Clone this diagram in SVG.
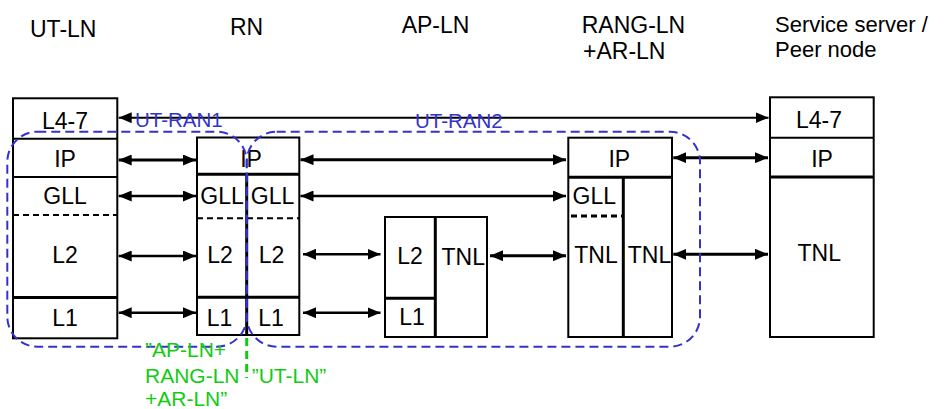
<svg xmlns="http://www.w3.org/2000/svg" width="945" height="409" viewBox="0 0 945 409">
<style>
.box{fill:#fff;stroke:#000;stroke-width:2}
.dv{stroke:#000;stroke-width:2;fill:none}
.tk{stroke:#000;stroke-width:3;fill:none}
.ds{stroke:#000;stroke-width:2;stroke-dasharray:6 4;fill:none}
.t{font-family:"Liberation Sans",Arial,sans-serif;font-size:23px;fill:#000}
.c{text-anchor:middle}
.arr{stroke:#000;stroke-width:2.5;fill:none;marker-start:url(#ah);marker-end:url(#ah)}
.arr2{stroke:#000;stroke-width:2;fill:none;marker-start:url(#ah);marker-end:url(#ah)}
.region{fill:none;stroke:#3333cc;stroke-width:2;stroke-dasharray:9 5}
.bl{font-family:"Liberation Sans",Arial,sans-serif;font-size:20.5px;fill:#3333cc}
.gr{font-family:"Liberation Sans",Arial,sans-serif;font-size:21px;fill:#11cc11}
.gl{stroke:#11cc11;stroke-width:3;stroke-dasharray:8 5;fill:none}
</style>
<defs>
<marker id="ah" viewBox="0 0 13 11" refX="13" refY="5.5" markerWidth="13" markerHeight="11" markerUnits="userSpaceOnUse" orient="auto-start-reverse">
<path d="M0,0 L13,5.5 L0,11 z" fill="#000"/>
</marker>
</defs>
<rect width="945" height="409" fill="#fff"/>

<g id="ut-ln">
<text class="t" x="30" y="37.3">UT-LN</text>
<rect class="box" x="13" y="98.3" width="104.3" height="240"/>
<line class="dv" x1="13" y1="138.7" x2="117.3" y2="138.7"/>
<line class="dv" x1="13" y1="177" x2="117.3" y2="177"/>
<line class="ds" x1="13" y1="215" x2="117.3" y2="215"/>
<line class="tk" x1="13" y1="297.5" x2="117.3" y2="297.5"/>
<text class="t c" x="65" y="129">L4-7</text>
<text class="t c" x="65" y="166.5">IP</text>
<text class="t c" x="65" y="203.5">GLL</text>
<text class="t c" x="65" y="262.5">L2</text>
<text class="t c" x="65" y="326">L1</text>
</g>

<g id="rn">
<text class="t" x="230" y="35">RN</text>
<rect class="box" x="197" y="137.5" width="102.3" height="197.5"/>
<line class="tk" x1="197" y1="174.3" x2="299.3" y2="174.3"/>
<line class="tk" x1="246.7" y1="174.3" x2="246.7" y2="335"/>
<line class="ds" x1="197" y1="218.3" x2="299.3" y2="218.3"/>
<line class="tk" x1="197" y1="297.3" x2="299.3" y2="297.3"/>
<text class="t c" x="251" y="166.5">IP</text>
<text class="t c" x="222" y="203.5">GLL</text>
<text class="t c" x="272.5" y="203.5">GLL</text>
<text class="t c" x="220" y="262.5">L2</text>
<text class="t c" x="271.5" y="262.5">L2</text>
<text class="t c" x="219.5" y="326">L1</text>
<text class="t c" x="271" y="326">L1</text>
</g>

<g id="ap-ln">
<text class="t" x="401.7" y="33.3">AP-LN</text>
<rect class="box" x="385" y="217" width="102" height="120"/>
<line class="tk" x1="435.3" y1="217" x2="435.3" y2="337"/>
<line class="tk" x1="385" y1="298.3" x2="435.3" y2="298.3"/>
<text class="t c" x="410" y="264">L2</text>
<text class="t c" x="412" y="325">L1</text>
<text class="t c" x="463.3" y="265">TNL</text>
</g>

<g id="rang-ln">
<text class="t" x="581.7" y="33.3">RANG-LN</text>
<text class="t" x="583" y="59.3">+AR-LN</text>
<rect class="box" x="568.3" y="137.7" width="103.7" height="199.3"/>
<line class="tk" x1="568.3" y1="177.3" x2="672" y2="177.3"/>
<line class="tk" x1="623.3" y1="177.3" x2="623.3" y2="337"/>
<line class="ds" style="stroke-width:3" x1="571" y1="216" x2="622" y2="216"/>
<text class="t c" x="619.3" y="166.7">IP</text>
<text class="t c" x="594.3" y="204.3">GLL</text>
<text class="t c" x="596" y="262.7">TNL</text>
<text class="t c" x="649.5" y="262.7">TNL</text>
</g>

<g id="server">
<text class="t" style="font-size:22px"><tspan x="775" y="31.7">Service server /</tspan><tspan x="775" y="56.5">Peer node</tspan></text>
<rect class="box" x="770" y="97.3" width="103.7" height="239.7"/>
<line class="dv" x1="770" y1="137.7" x2="873.7" y2="137.7"/>
<line class="tk" x1="770" y1="177" x2="873.7" y2="177"/>
<text class="t c" x="819" y="127.7">L4-7</text>
<text class="t c" x="822" y="167.3">IP</text>
<text class="t c" x="819.3" y="260.7">TNL</text>
</g>

<g id="connectors">
<line class="arr2" x1="118.7" y1="117.7" x2="768.5" y2="117.7"/>
<line class="arr" style="stroke-width:3" x1="118.7" y1="160" x2="196" y2="160"/>
<line class="arr" style="stroke-width:3" x1="300.5" y1="159.7" x2="566" y2="159.7"/>
<line class="arr" style="stroke-width:3" x1="673.3" y1="157.7" x2="768" y2="157.7"/>
<line class="arr" x1="118.7" y1="196" x2="196" y2="196"/>
<line class="arr" x1="300.5" y1="196" x2="566" y2="196"/>
<line class="arr" x1="118.7" y1="256" x2="196" y2="256"/>
<line class="arr" x1="303" y1="254.3" x2="380.5" y2="254.3"/>
<line class="arr" x1="118.7" y1="312.7" x2="196" y2="312.7"/>
<line class="arr" x1="303" y1="312.7" x2="380.5" y2="312.7"/>
<line class="arr" style="stroke-width:3" x1="490" y1="255.7" x2="566" y2="255.7"/>
<line class="arr" style="stroke-width:3" x1="673.3" y1="254.3" x2="768" y2="254.3"/>
</g>

<g id="ut-ran1">
<rect class="region" x="7.3" y="131.7" width="239.4" height="215" rx="30" ry="30"/>
<text class="bl" x="135" y="126.7">UT-RAN1</text>
</g>
<g id="ut-ran2">
<rect class="region" x="246.7" y="131.7" width="453.3" height="215" rx="30" ry="30"/>
<text class="bl" x="415" y="128.3">UT-RAN2</text>
</g>

<g id="split">
<line class="gl" x1="246.7" y1="338" x2="246.7" y2="378"/>
<text class="gr" x="145" y="357.3">”AP-LN+</text>
<text class="gr" x="145" y="382.7">RANG-LN</text>
<text class="gr" x="145" y="406">+AR-LN”</text>
<text class="gr" x="251.7" y="382.7">”UT-LN”</text>
</g>
</svg>
